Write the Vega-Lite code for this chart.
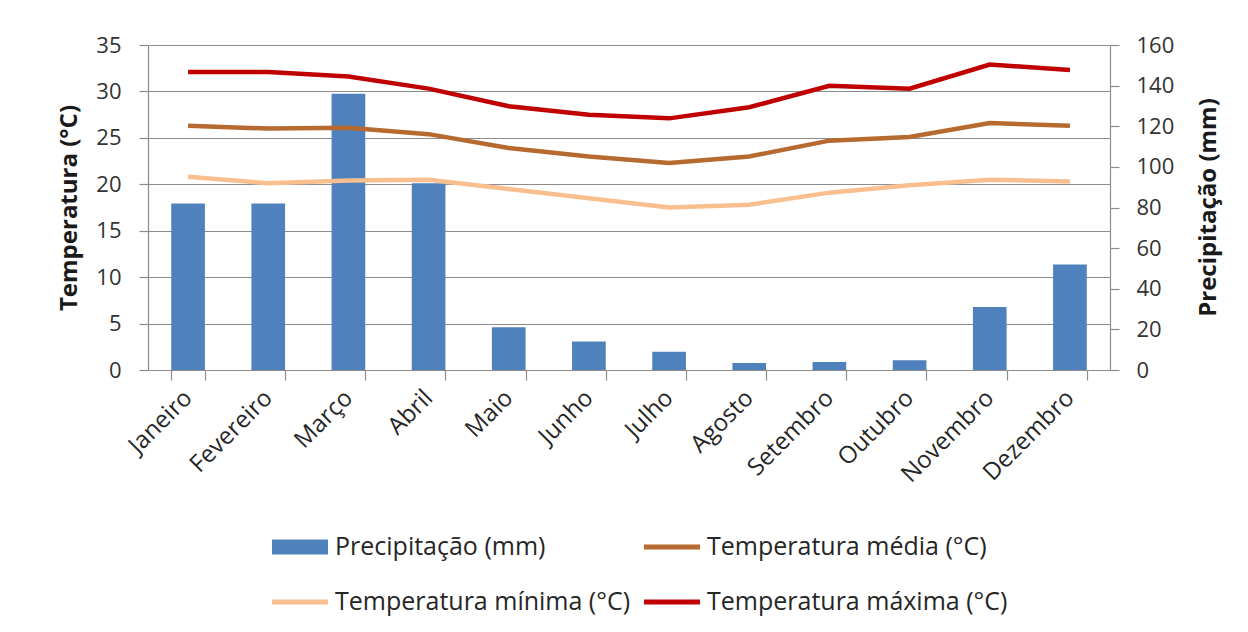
{
  "$schema": "https://vega.github.io/schema/vega-lite/v6.json",
  "width": 962,
  "height": 325,
  "autosize": {"type": "none"},
  "padding": {"left": 148, "top": 45, "right": 138, "bottom": 262},
  "background": "white",
  "config": {
    "font": "Open Sans",
    "view": {"stroke": null},
    "axis": {
      "labelColor": "#333333",
      "titleColor": "#1a1a1a",
      "labelFontSize": 22,
      "titleFontSize": 24,
      "titleFontWeight": "bold",
      "domainColor": "#8c8c8c",
      "tickColor": "#8c8c8c",
      "gridColor": "#8c8c8c",
      "domainWidth": 1.2,
      "tickWidth": 1.2,
      "gridWidth": 1.2,
      "tickSize": 9
    },
    "legend": {
      "labelColor": "#262626",
      "orient": "none", "legendX": 124, "legendY": 474, "columns": 2, "title": null,
      "symbolSize": 3136, "labelFontSize": 25, "labelLimit": 500, "columnPadding": 13, "rowPadding": 14, "labelOffset": 7
    }
  },
  "data": {
    "values": [
      {"Mês": "Janeiro", "Precipitação (mm)": 82, "Temperatura média (°C)": 26.3, "Temperatura mínima (°C)": 20.8, "Temperatura máxima (°C)": 32.1},
      {"Mês": "Fevereiro", "Precipitação (mm)": 82, "Temperatura média (°C)": 26.0, "Temperatura mínima (°C)": 20.1, "Temperatura máxima (°C)": 32.1},
      {"Mês": "Março", "Precipitação (mm)": 136, "Temperatura média (°C)": 26.1, "Temperatura mínima (°C)": 20.4, "Temperatura máxima (°C)": 31.6},
      {"Mês": "Abril", "Precipitação (mm)": 92, "Temperatura média (°C)": 25.4, "Temperatura mínima (°C)": 20.5, "Temperatura máxima (°C)": 30.3},
      {"Mês": "Maio", "Precipitação (mm)": 21, "Temperatura média (°C)": 23.9, "Temperatura mínima (°C)": 19.5, "Temperatura máxima (°C)": 28.4},
      {"Mês": "Junho", "Precipitação (mm)": 14, "Temperatura média (°C)": 23.0, "Temperatura mínima (°C)": 18.5, "Temperatura máxima (°C)": 27.5},
      {"Mês": "Julho", "Precipitação (mm)": 9, "Temperatura média (°C)": 22.3, "Temperatura mínima (°C)": 17.5, "Temperatura máxima (°C)": 27.1},
      {"Mês": "Agosto", "Precipitação (mm)": 3.4, "Temperatura média (°C)": 23.0, "Temperatura mínima (°C)": 17.8, "Temperatura máxima (°C)": 28.3},
      {"Mês": "Setembro", "Precipitação (mm)": 4, "Temperatura média (°C)": 24.7, "Temperatura mínima (°C)": 19.1, "Temperatura máxima (°C)": 30.6},
      {"Mês": "Outubro", "Precipitação (mm)": 4.8, "Temperatura média (°C)": 25.1, "Temperatura mínima (°C)": 19.9, "Temperatura máxima (°C)": 30.3},
      {"Mês": "Novembro", "Precipitação (mm)": 31, "Temperatura média (°C)": 26.6, "Temperatura mínima (°C)": 20.5, "Temperatura máxima (°C)": 32.9},
      {"Mês": "Dezembro", "Precipitação (mm)": 52, "Temperatura média (°C)": 26.3, "Temperatura mínima (°C)": 20.3, "Temperatura máxima (°C)": 32.3}
    ]
  },
  "layer": [
    {
      "mark": {"type": "bar", "color": "#4F81BD"},
      "encoding": {
        "x": {
          "field": "Mês", "type": "nominal",
          "sort": ["Janeiro","Fevereiro","Março","Abril","Maio","Junho","Julho","Agosto","Setembro","Outubro","Novembro","Dezembro"],
          "scale": {"paddingInner": 0.58, "paddingOuter": 0.29},
          "axis": {"title": null, "labelAngle": -45, "labelAlign": "right", "labelBaseline": "middle", "labelPadding": 14, "labelFontSize": 24, "tickSize": 10, "tickBand": "extent", "labelColor": "#262626"}
        },
        "y": {
          "field": "Precipitação (mm)", "type": "quantitative",
          "scale": {"domain": [0, 160], "nice": false},
          "axis": {"orient": "right", "values": [0,20,40,60,80,100,120,140,160], "grid": false, "title": "Precipitação (mm)", "titleAngle": 270, "titleAlign": "center", "titleBaseline": "middle", "titleX": 98, "titleY": 162, "labelPadding": 17}
        },
        "color": {
          "datum": "Precipitação (mm)",
          "scale": {
            "domain": ["Precipitação (mm)", "Temperatura mínima (°C)", "Temperatura média (°C)", "Temperatura máxima (°C)"],
            "range": ["#4F81BD", "#FABF8F", "#B66A2F", "#C00000"]
          },
          "legend": {
            "title": null,
            "encode": {"symbols": {"update": {
              "shape": {"signal": "datum.value === 'Precipitação (mm)' ? 'M-1,-0.27L1,-0.27L1,0.27L-1,0.27Z' : 'M-1,-0.09L1,-0.09L1,0.09L-1,0.09Z'"},
              "fill": {"scale": "color", "field": "value"},
              "strokeWidth": {"value": 0},
              "opacity": {"value": 1}
            }}}
          }
        }
      }
    },
    {
      "transform": [{"fold": ["Temperatura média (°C)", "Temperatura mínima (°C)", "Temperatura máxima (°C)"], "as": ["Série", "Temp"]}],
      "mark": {"type": "line", "strokeWidth": 4.5},
      "encoding": {
        "x": {"field": "Mês", "type": "nominal", "sort": ["Janeiro","Fevereiro","Março","Abril","Maio","Junho","Julho","Agosto","Setembro","Outubro","Novembro","Dezembro"]},
        "y": {
          "field": "Temp", "type": "quantitative",
          "scale": {"domain": [0, 35], "nice": false},
          "axis": {"orient": "left", "values": [0,5,10,15,20,25,30,35], "grid": true, "title": "Temperatura (°C)", "labelPadding": 18, "titlePadding": 14}
        },
        "color": {
          "field": "Série", "type": "nominal",
          "scale": {
            "domain": ["Precipitação (mm)", "Temperatura mínima (°C)", "Temperatura média (°C)", "Temperatura máxima (°C)"],
            "range": ["#4F81BD", "#FABF8F", "#B66A2F", "#C00000"]
          },
          "legend": {
            "title": null,
            "encode": {"symbols": {"update": {
              "shape": {"signal": "datum.value === 'Precipitação (mm)' ? 'M-1,-0.27L1,-0.27L1,0.27L-1,0.27Z' : 'M-1,-0.09L1,-0.09L1,0.09L-1,0.09Z'"},
              "fill": {"scale": "color", "field": "value"},
              "strokeWidth": {"value": 0},
              "opacity": {"value": 1}
            }}}
          }
        }
      }
    }
  ],
  "resolve": {"scale": {"y": "independent"}}
}
